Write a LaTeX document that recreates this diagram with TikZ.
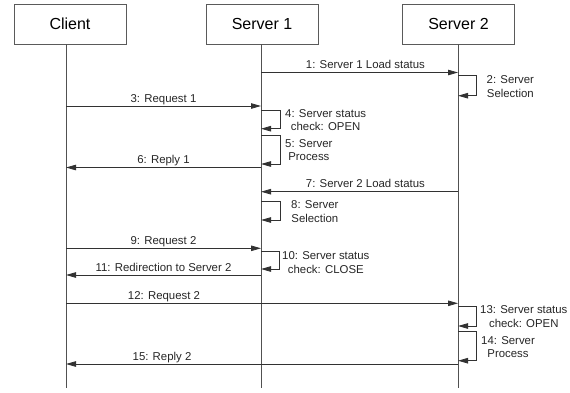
\documentclass[tikz,border=0pt]{standalone}
\usepackage{fontspec}
\setmainfont{Liberation Sans}
\usetikzlibrary{arrows.meta, positioning}
\usepackage{xcolor}
\definecolor{linegray}{RGB}{50,50,50}
\definecolor{boxgray}{RGB}{90,90,90}
\newcommand{\msgfont}{\fontsize{11.4}{13.6}\selectfont}
\tikzset{actorbox/.style={draw=boxgray, line width=0.9pt, minimum width=112pt, minimum height=40pt, inner sep=0pt, font=\fontsize{16}{19}\selectfont}}

\begin{document}
\begin{tikzpicture}[
        x=1pt, y=-1pt,
        lifeline/.style={draw=linegray!85, line width=0.8pt},
        msg/.style={draw=linegray, line width=0.8pt, -{Triangle[length=10pt, width=5.5pt]}},
        msglabel/.style={anchor=base, yshift=4pt, inner sep=0pt, font=\msgfont, text=black!85},
        looplabel/.style={anchor=west, inner sep=0pt, align=center, font=\msgfont, text=black!85}
    ]
        \useasboundingbox (0,0) rectangle (570,392);
        % Actors
        \node[actorbox] (client) at (70,24) {Client};
        \node[actorbox] (srv1) at (262,24) {Server 1};
        \node[actorbox] (srv2) at (458.5,24) {Server 2};
        % Lifelines
        \coordinate (cline) at (66,44);
        \coordinate (s1line) at (261,44);
        \coordinate (s2line) at (458,44);
        \draw[lifeline] (cline) -- (cline |- 0,388);
        \draw[lifeline] (s1line) -- (s1line |- 0,388);
        \draw[lifeline] (s2line) -- (s2line |- 0,388);
        % Messages
        \draw[msg] (s1line |- 0,72.5) -- node[msglabel, pos=0.53] (m1) {1: Server 1 Load status} (s2line |- 0,72.5);
        \draw[msg] (s2line |- 0,75) -- ++(18,0) -- ++(0,20.7) -- (s2line |- 0,95.7);
        \node[looplabel] (m2) at (486.5,86.5) {2: Server\\Selection};
        \draw[msg] (cline |- 0,106) -- node[msglabel] (m3) {3: Request 1} (s1line |- 0,106);
        \draw[msg] (s1line |- 0,110) -- ++(19,0) -- ++(0,18.7) -- (s1line |- 0,128.7);
        \node[looplabel] (m4) at (285,120) {4: Server status\\check: OPEN};
        \draw[msg] (s1line |- 0,135) -- ++(19,0) -- ++(0,29) -- (s1line |- 0,164);
        \node[looplabel] (m5) at (285,150) {5: Server\\Process};
        \draw[msg] (s1line |- 0,167.5) -- node[msglabel] (m6) {6: Reply 1} (cline |- 0,167.5);
        \draw[msg] (s2line |- 0,191.7) -- node[msglabel, pos=0.47] (m7) {7: Server 2 Load status} (s1line |- 0,191.7);
        \draw[msg] (s1line |- 0,201.7) -- ++(19,0) -- ++(0,18.3) -- (s1line |- 0,220);
        \node[looplabel] (m8) at (291,211.5) {8: Server\\Selection};
        \draw[msg] (cline |- 0,248.3) -- node[msglabel] (m9) {9: Request 2} (s1line |- 0,248.3);
        \draw[msg] (s1line |- 0,251.7) -- ++(18,0) -- ++(0,17.3) -- (s1line |- 0,269);
        \node[looplabel] (m10) at (282,262.5) {10: Server status\\check: CLOSE};
        \draw[msg] (s1line |- 0,275) -- node[msglabel] (m11) {11: Redirection to Server 2} (cline |- 0,275);
        \draw[msg] (cline |- 0,303.3) -- node[msglabel, pos=0.25] (m12) {12: Request 2} (s2line |- 0,303.3);
        \draw[msg] (s2line |- 0,306) -- ++(18,0) -- ++(0,20) -- (s2line |- 0,326);
        \node[looplabel] (m13) at (480,316.7) {13: Server status\\check: OPEN};
        \draw[msg] (s2line |- 0,331.7) -- ++(18,0) -- ++(0,29) -- (s2line |- 0,360.7);
        \node[looplabel] (m14) at (481,347) {14: Server\\Process};
        \draw[msg] (s2line |- 0,364) -- node[msglabel, pos=0.755] (m15) {15: Reply 2} (cline |- 0,364);
    \end{tikzpicture}
\end{document}
